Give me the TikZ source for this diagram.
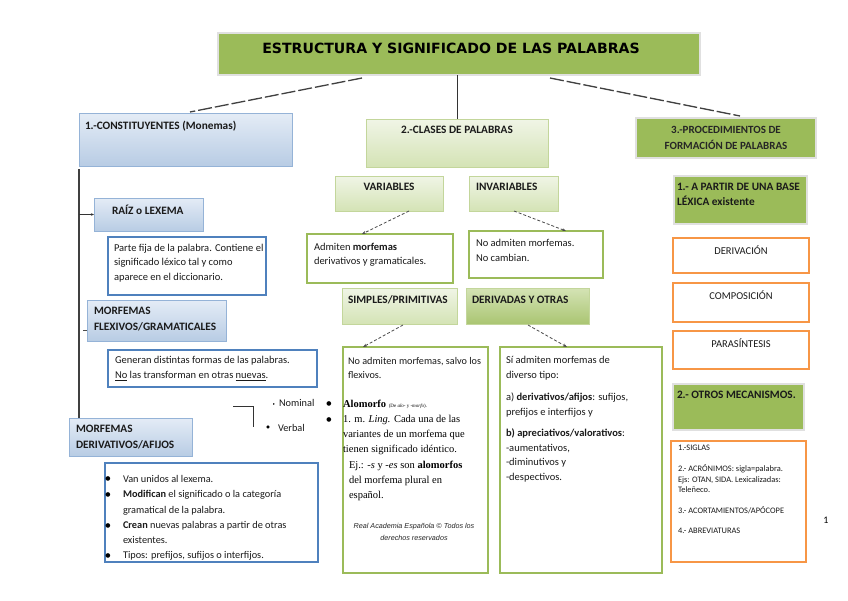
\documentclass[tikz,border=0pt]{standalone}
\usepackage{fontspec}
\setmainfont{Carlito}
\newfontfamily\titlefont{DejaVu Sans}
\newfontfamily\serf{Liberation Serif}
\newfontfamily\arialf{Liberation Sans}
\newfontfamily\symf{DejaVu Sans}
\usetikzlibrary{arrows.meta,calc}
\definecolor{gA}{HTML}{9BBB59}
\definecolor{gL1}{HTML}{F0F5E6}
\definecolor{gL2}{HTML}{D4E3B5}
\definecolor{gLb}{HTML}{C3D69B}
\definecolor{bL1}{HTML}{E4ECF6}
\definecolor{bL2}{HTML}{B8CCE4}
\definecolor{bLb}{HTML}{95B3D7}
\definecolor{bB}{HTML}{4F81BD}
\definecolor{oB}{HTML}{F79646}
\definecolor{txt}{HTML}{1A1A1A}
\newcommand\mybox[6]{\node[#1, minimum width=#5pt-#3pt, minimum height=#6pt-#4pt] (#2) at (#3,#4) {};}
\newcommand\blt{{\symf\fontsize{6}{6}\selectfont ●}}
\begin{document}
\begin{tikzpicture}[x=1pt,y=-1pt,
 every node/.style={inner sep=0pt, outer sep=0pt},
 boxbase/.style={anchor=north west, rectangle},
 gbox/.style={boxbase, fill=gA, draw=black!12, line width=1.2pt},
 lgbox/.style={boxbase, top color=gL1, bottom color=gL2, draw=gLb, line width=0.8pt},
 dgbox/.style={boxbase, top color=gL2, bottom color=gA!85, draw=gLb, line width=0.8pt},
 lbbox/.style={boxbase, top color=bL1, bottom color=bL2, draw=bLb, line width=0.8pt},
 bframe/.style={boxbase, fill=white, draw=bB, line width=2pt},
 gframe/.style={boxbase, fill=white, draw=gA, line width=2.2pt},
 oframe/.style={boxbase, fill=white, draw=oB, line width=2.2pt},
 tx/.style={anchor=west, font=\fontsize{10.5}{14.5}\selectfont, align=left, text=txt},
 hd/.style={anchor=west, font=\fontsize{11.3}{15.5}\selectfont\bfseries, align=left, text=txt},
 sm/.style={anchor=north west, font=\fontsize{8.4}{10.5}\selectfont, align=left, text=txt},
 sr/.style={anchor=west, font=\serf\fontsize{10.5}{15}\selectfont, align=left, text=black},
 dashcon/.style={draw=black!75, line width=1.3pt, dash pattern=on 14pt off 3pt},
 solidcon/.style={draw=black!80, line width=1pt},
 vline/.style={draw=black!75, line width=1.2pt},
 thincon/.style={draw=black!70, line width=0.8pt, densely dashed, -{Stealth[length=4pt,width=3pt]}},
 smallarr/.style={draw=black!80, line width=0.7pt, -{Stealth[length=3pt,width=2.5pt]}},
]
\useasboundingbox[fill=white] (0,0) rectangle (848,600);

% ---- boxes ----
\mybox{gbox}{title}{218}{33}{700}{75}
\mybox{lbbox}{box1}{79}{113}{292}{166}
\mybox{lgbox}{box2}{366}{119}{548}{167}
\mybox{gbox}{box3}{636}{118}{816}{158}
\mybox{lgbox}{var}{335}{176}{443}{211}
\mybox{lgbox}{inv}{469}{176}{558}{211}
\mybox{gbox}{base}{674}{176}{807}{224}
\mybox{lbbox}{raiz}{94}{198}{203}{231}
\mybox{bframe}{parte}{108}{237}{266}{295}
\mybox{gframe}{adm}{307}{234}{453}{283}
\mybox{gframe}{noadm}{469}{231}{603}{278}
\mybox{oframe}{deriv}{673}{238}{809}{273}
\mybox{oframe}{compo}{673}{283}{809}{322}
\mybox{lgbox}{simp}{342}{288}{457}{324}
\mybox{dgbox}{dero}{466}{288}{589}{324}
\mybox{lbbox}{flex}{87}{300}{226}{341}
\mybox{oframe}{para}{673}{331}{809}{369}
\mybox{bframe}{gen}{108}{350}{317}{387}
\mybox{gframe}{salvo}{343}{347}{488}{573}
\mybox{gframe}{si}{500}{347}{662}{573}
\mybox{gbox}{otros}{673}{384}{804}{430}
\mybox{lbbox}{dafi}{69}{418}{192}{456}
\mybox{oframe}{lista}{671}{441}{806}{562}
\mybox{bframe}{blts}{105}{463}{318}{562}

% ---- connectors ----
\coordinate (t1) at (362,78);
\coordinate (c1) at (190,112);
\coordinate (t3) at (550,78);
\coordinate (c3) at (740,116);
\draw[dashcon] (t1) -- (c1);
\draw[dashcon] (t3) -- (c3);
\draw[solidcon] (title.south -| box2.north) -- (box2.north);
\draw[vline] ($(box1.south west)+(0,3)$) -- (box1.south west |- dafi.north);
\draw[smallarr] (box1.south west |- raiz.west) -- (raiz.west);
\coordinate (fx) at (87,330);
\draw[black!70, line width=0.8pt] ($(fx)+(-4,0)$) -- (fx);
\draw[thincon] ($(var.south)+(20,0)$) -- ($(adm.north west)+(55,0)$);
\draw[thincon] ($(inv.south west)+(45,0)$) -- ($(noadm.north west)+(97,0)$);
\draw[thincon] ($(simp.south west)+(61,1)$) -- ($(salvo.north west)+(20,0)$);
\draw[thincon] ($(dero.south west)+(62,1)$) -- ($(si.north west)+(67,0)$);
\coordinate (bk1) at (233,406);
\coordinate (bk2) at (253,406);
\coordinate (bk3) at (253,427);
\draw[black!80, line width=0.8pt] (bk1) -- (bk2) -- (bk3);

% ---- texts ----
\node[font=\titlefont\bfseries\fontsize{14.1}{16}\selectfont, text=black] (ttl) at (451,48) {ESTRUCTURA Y SIGNIFICADO DE LAS PALABRAS};
\node[hd] (t-box1) at (85,126) {1.-CONSTITUYENTES (Monemas)};
\node[hd, anchor=center] (t-box2) at (457,130) {2.-CLASES DE PALABRAS};
\node[hd, anchor=center, align=center, text=black!85, font=\fontsize{11}{16}\selectfont\bfseries] (t-box3) at (726,137.5) {3.-PROCEDIMIENTOS DE\\FORMACIÓN DE PALABRAS};
\node[hd, anchor=center] (t-var) at (389,187) {VARIABLES};
\node[hd] (t-inv) at (476,187) {INVARIABLES};
\node[hd] (t-base) at (677,194.5) {1.- A PARTIR DE UNA BASE\\LÉXICA existente};
\node[hd] (t-raiz) at (112,210) {RAÍZ o LEXEMA};
\node[tx] (t-parte) at (114,263) {Parte fija de la palabra. Contiene el\\significado léxico tal y como\\aparece en el diccionario.};
\node[tx] (t-adm) at (314,254.5) {Admiten \textbf{morfemas}\\derivativos y gramaticales.};
\node[tx] (t-noadm) at (476,250.5) {No admiten morfemas.\\No cambian.};
\node[tx, anchor=center] (t-deriv) at (741,250) {DERIVACIÓN};
\node[tx, anchor=center] (t-compo) at (741,295) {COMPOSICIÓN};
\node[tx, anchor=center] (t-para) at (741,343) {PARASÍNTESIS};
\node[hd] (t-simp) at (348,300) {SIMPLES/PRIMITIVAS};
\node[hd] (t-dero) at (472,300) {DERIVADAS Y OTRAS};
\node[hd] (t-flex) at (94,319) {MORFEMAS\\FLEXIVOS/GRAMATICALES};
\node[tx] (t-gen) at (115,368.5) {Generan distintas formas de las palabras.\\\underline{No} las transforman en otras \underline{nuevas}.};
\node[tx, font=\fontsize{10.2}{14.5}\selectfont] (t-salvo) at (348,368) {No admiten morfemas, salvo los\\flexivos.};
\node[tx] (t-si) at (506,419) {Sí admiten morfemas de\\diverso tipo:\\[8pt] a) \textbf{derivativos/afijos}: sufijos,\\prefijos e interfijos y\\[7pt]\textbf{b) apreciativos/valorativos}:\\-aumentativos,\\-diminutivos y\\-despectivos.};
\node[hd] (t-otros) at (677,395) {2.- OTROS MECANISMOS.};
\node[hd] (t-dafi) at (76,437) {MORFEMAS\\DERIVATIVOS/AFIJOS};

% Nominal / Verbal
\node[tx, font=\fontsize{10.3}{10}\selectfont] (t-nom) at (279,403) {Nominal};
\node[font=\fontsize{4}{4}\selectfont] (b-nom) at (274,404) {\symf ▸};
\node[tx, font=\fontsize{10.3}{10}\selectfont] (t-verb) at (278,428) {Verbal};
\node[font=\fontsize{4}{4}\selectfont] (b-verb) at (268,427) {\symf ●};

% Alomorfo
\node (b-al1) at (329,404) {\blt};
\node (b-al2) at (329,420) {\blt};
\node[sr] (t-al1) at (343,427.5) {\textbf{Alomorfo} {\fontsize{5}{6}\selectfont (De \textit{alo-} y \textit{-morfo}).}\\1. m. \textit{Ling.} Cada una de las\\variantes de un morfema que\\tienen significado idéntico.};
\node[sr] (t-al2) at (349,480.5) {Ej.: \textit{-s} y \textit{-es} son \textbf{alomorfos}\\del morfema plural en\\español.};
\node[font=\arialf\itshape\fontsize{7.2}{12}\selectfont, align=center, text=black!85] (t-rae) at (414,532) {Real Academia Española © Todos los\\derechos reservados};

% bullet list
\node (b1) at (108,479) {\blt};
\node (b2) at (108,495) {\blt};
\node (b3) at (108,526) {\blt};
\node (b4) at (108,556) {\blt};
\node[tx, font=\fontsize{10.3}{15.3}\selectfont] (t-blts) at (123,518) {Van unidos al lexema.\\\textbf{Modifican} el significado o la categoría\\gramatical de la palabra.\\\textbf{Crean} nuevas palabras a partir de otras\\existentes.\\Tipos: prefijos, sufijos o interfijos.};

% lista orange
\node[sm] (t-lista) at (678,445) {1.-SIGLAS\\[11pt]2.- ACRÓNIMOS: sigla=palabra.\\Ejs: OTAN, SIDA. Lexicalizadas:\\Teleñeco.\\[10pt]3.- ACORTAMIENTOS/APÓCOPE\\[10pt]4.- ABREVIATURAS};

\node[font=\fontsize{10}{12}\selectfont] (pg) at (826,520) {1};
\end{tikzpicture}
\end{document}
